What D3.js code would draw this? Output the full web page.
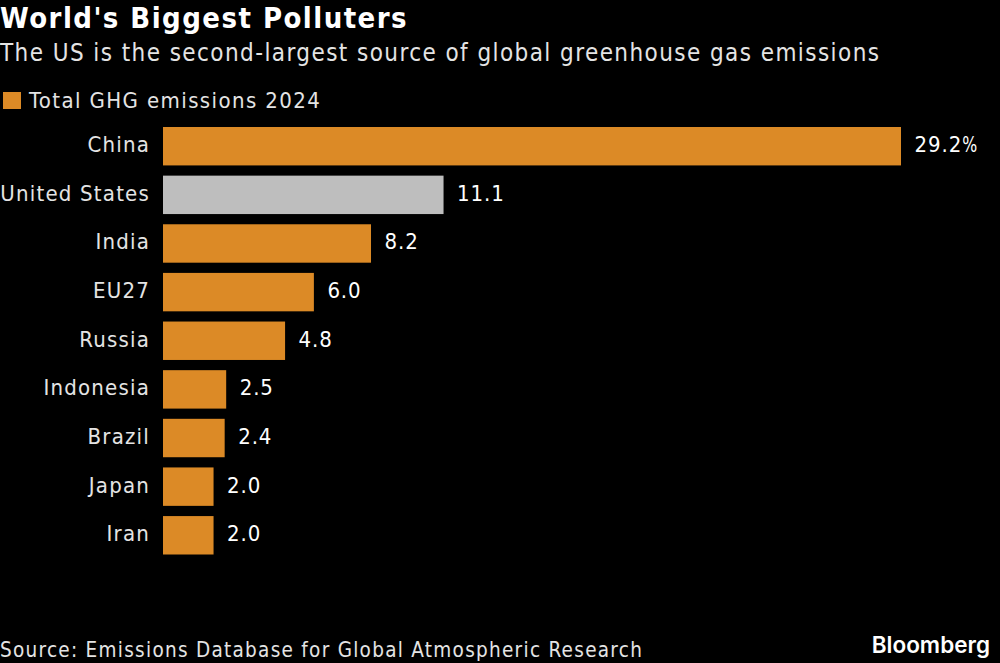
<!DOCTYPE html>
<html>
<head>
<style>
	html, body { margin: 0; padding: 0; background: #000; }
	svg { display: block; }
	text { font-family: "DejaVu Sans Condensed", "DejaVu Sans", sans-serif; font-stretch: condensed; fill: #e4e4e4; }
	.logo { font-family: Inter, sans-serif; font-stretch: normal; fill: #fff; font-weight: 600; }
</style>
<script src="https://d3js.org/d3.v7.min.js"></script>
</head>
<body>
<svg id="chart" width="1000" height="663"></svg>
<script>
const categories = ['China', 'United States', 'India', 'EU27', 'Russia', 'Indonesia', 'Brazil', 'Japan', 'Iran'];
const values = [29.2, 11.1, 8.23, 5.97, 4.83, 2.5, 2.44, 2.0, 2.0];
const valueLabels = ['29.2', '11.1', '8.2', '6.0', '4.8', '2.5', '2.4', '2.0', '2.0'];
const highlighted = 'United States';

const orange = '#dc8a26';
const gray = '#bebebe';

const svg = d3.select('#chart');
const x = d3.scaleLinear().domain([0, 29.2]).range([163, 901]);
const y = d3.scaleBand().domain(categories).range([127, 554.5]).paddingInner(0.21).paddingOuter(0);

svg.append('text').attr('x', 0).attr('y', 28).attr('font-size', 29).attr('font-weight', 700).attr('letter-spacing', 1.45).style('fill', '#fff').text("World's Biggest Polluters");
svg.append('text').attr('x', 0).attr('y', 61).attr('font-size', 24).attr('letter-spacing', 1.42).text('The US is the second-largest source of global greenhouse gas emissions');

svg.append('rect').attr('x', 3).attr('y', 92).attr('width', 18).attr('height', 17).attr('fill', orange);
svg.append('text').attr('x', 29).attr('y', 108).attr('font-size', 22).attr('letter-spacing', 1.4).text('Total GHG emissions 2024');

svg.selectAll('rect.bar').data(categories).join('rect').attr('class', 'bar')
	.attr('x', x(0))
	.attr('y', d => y(d))
	.attr('width', (d, i) => x(values[i]) - x(0))
	.attr('height', y.bandwidth())
	.attr('fill', d => d == highlighted ? gray : orange);

svg.selectAll('text.cat').data(categories).join('text').attr('class', 'cat')
	.attr('x', 150)
	.attr('y', d => y(d) + y.bandwidth() / 2 + 6)
	.attr('text-anchor', 'end')
	.attr('font-size', 22)
	.attr('letter-spacing', 1.2)
	.text(d => d);

svg.selectAll('text.val').data(categories).join('text').attr('class', 'val')
	.attr('x', (d, i) => x(values[i]) + 13.5)
	.attr('y', d => y(d) + y.bandwidth() / 2 + 6)
	.attr('font-size', 22)
	.attr('letter-spacing', 0.9)
	.style('fill', '#fff')
	.text((d, i) => valueLabels[i]);

// the percent sign is narrower than the digits, only on the first label
svg.select('text.val').append('tspan').attr('letter-spacing', 0).attr('textLength', 15).attr('lengthAdjust', 'spacingAndGlyphs').text('%');

svg.append('text').attr('x', 0).attr('y', 657).attr('font-size', 20.5).attr('letter-spacing', 1.28).text('Source: Emissions Database for Global Atmospheric Research');
svg.append('text').attr('class', 'logo').attr('x', 990).attr('y', 653).attr('text-anchor', 'end').attr('font-size', 22.5).text('Bloomberg');
</script>
</body>
</html>
